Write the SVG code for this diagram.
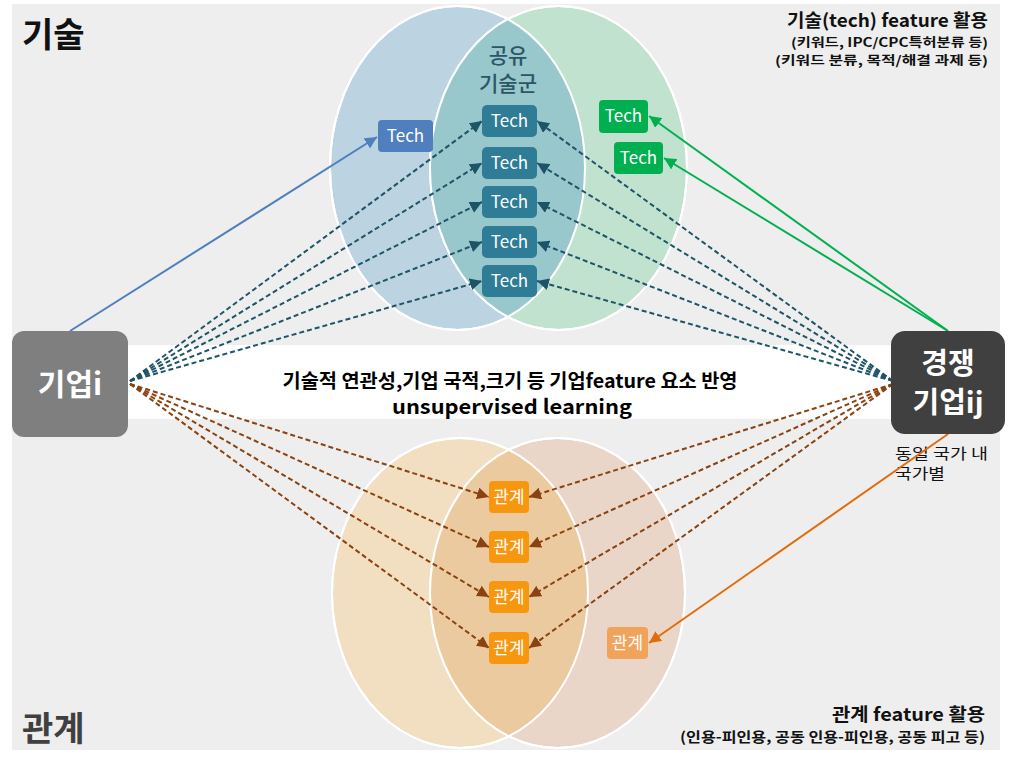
<svg xmlns="http://www.w3.org/2000/svg" width="1009" height="768" viewBox="0 0 1009 768">
<style>
text{font-family:"Noto Sans CJK KR","Noto Sans",sans-serif}
.b{font-weight:bold}
.tech{fill:#2e7c95}
.techT{fill:#fff;font-size:17px;text-anchor:middle}
.rel{fill:#f7960f}
.relT{fill:#fff;font-size:17px;text-anchor:middle}
.dt{stroke:#1e5468;stroke-width:2;stroke-dasharray:5,3;fill:none;marker-end:url(#ah-teal)}
.do{stroke:#8a4210;stroke-width:2;stroke-dasharray:5,3;fill:none;marker-end:url(#ah-brown)}
.ew{stroke:#ffffff;stroke-width:2}
</style>
<defs>
<marker id="ah-teal" viewBox="0 0 10 10" refX="10" refY="5" markerWidth="12" markerHeight="12" markerUnits="userSpaceOnUse" orient="auto"><path d="M0,0 L10,5 L0,10 z" fill="#1e5468"/></marker>
<marker id="ah-brown" viewBox="0 0 10 10" refX="10" refY="5" markerWidth="12" markerHeight="12" markerUnits="userSpaceOnUse" orient="auto"><path d="M0,0 L10,5 L0,10 z" fill="#8a4210"/></marker>
<marker id="ah-blue" viewBox="0 0 10 10" refX="10" refY="5" markerWidth="12" markerHeight="12" markerUnits="userSpaceOnUse" orient="auto"><path d="M0,0 L10,5 L0,10 z" fill="#4f7fbd"/></marker>
<marker id="ah-green" viewBox="0 0 10 10" refX="10" refY="5" markerWidth="12" markerHeight="12" markerUnits="userSpaceOnUse" orient="auto"><path d="M0,0 L10,5 L0,10 z" fill="#00b050"/></marker>
<marker id="ah-orange" viewBox="0 0 10 10" refX="10" refY="5" markerWidth="12" markerHeight="12" markerUnits="userSpaceOnUse" orient="auto"><path d="M0,0 L10,5 L0,10 z" fill="#e36c0a"/></marker>
<clipPath id="clipTopL"><ellipse cx="457.5" cy="168" rx="127.5" ry="162"/></clipPath>
<clipPath id="clipBotL"><ellipse cx="460" cy="593" rx="128" ry="155"/></clipPath>
</defs>
<rect x="0" y="0" width="1009" height="768" fill="#ffffff"/>
<rect x="12" y="4" width="988" height="746" fill="#eeeeee"/>
<rect x="12" y="345" width="988" height="74" fill="#ffffff"/>

<g id="venn-tech">
<ellipse cx="457.5" cy="168" rx="127.5" ry="162" fill="#bcd3e2" class="ew"/>
<ellipse cx="558.5" cy="168" rx="128.5" ry="162" fill="#c2e2d0" class="ew"/>
<ellipse cx="558.5" cy="168" rx="128.5" ry="162" fill="#98c7cc" clip-path="url(#clipTopL)"/>
<ellipse cx="457.5" cy="168" rx="127.5" ry="162" fill="none" class="ew"/>
<ellipse cx="558.5" cy="168" rx="128.5" ry="162" fill="none" class="ew"/>
<text x="508" y="63" font-size="21" fill="#2c5566" text-anchor="middle" font-weight="500">공유</text>
<text x="508" y="91" font-size="21" fill="#2c5566" text-anchor="middle" font-weight="500">기술군</text>
</g>

<g id="venn-rel">
<ellipse cx="460" cy="593" rx="128" ry="155" fill="#f2dfc1" class="ew"/>
<ellipse cx="557.5" cy="593" rx="127.5" ry="155" fill="#ead6c8" class="ew"/>
<ellipse cx="557.5" cy="593" rx="127.5" ry="155" fill="#ecca9f" clip-path="url(#clipBotL)"/>
<ellipse cx="460" cy="593" rx="128" ry="155" fill="none" class="ew"/>
<ellipse cx="557.5" cy="593" rx="127.5" ry="155" fill="none" class="ew"/>
</g>

<g id="labels">
<text x="22" y="47" font-size="34" class="b" fill="#111">기술</text>
<text x="22" y="741" font-size="34" class="b" fill="#404040">관계</text>
<text x="988" y="27" font-size="18" class="b" fill="#111" text-anchor="end" textLength="201" lengthAdjust="spacingAndGlyphs">기술(tech) feature 활용</text>
<text x="988" y="47" font-size="12.5" class="b" fill="#111" text-anchor="end" textLength="197" lengthAdjust="spacingAndGlyphs">(키워드, IPC/CPC특허분류 등)</text>
<text x="988" y="65" font-size="12.5" class="b" fill="#111" text-anchor="end" textLength="213" lengthAdjust="spacingAndGlyphs">(키워드 분류, 목적/해결 과제 등)</text>
<text x="985" y="721" font-size="18" class="b" fill="#111" text-anchor="end" textLength="153" lengthAdjust="spacingAndGlyphs">관계 feature 활용</text>
<text x="985" y="742" font-size="14" class="b" fill="#111" text-anchor="end" textLength="305" lengthAdjust="spacingAndGlyphs">(인용-피인용, 공동 인용-피인용, 공동 피고 등)</text>
<text x="510" y="388" font-size="19" class="b" fill="#000" text-anchor="middle" textLength="455" lengthAdjust="spacingAndGlyphs">기술적 연관성,기업 국적,크기 등 기업feature 요소 반영</text>
<text x="512" y="414" font-size="20" class="b" fill="#000" text-anchor="middle" textLength="240" lengthAdjust="spacingAndGlyphs">unsupervised learning</text>
<text x="895" y="459" font-size="15" fill="#111" textLength="93" lengthAdjust="spacingAndGlyphs">동일 국가 내</text>
<text x="895" y="479" font-size="15" fill="#111" textLength="50" lengthAdjust="spacingAndGlyphs">국가별</text>
</g>

<g id="connectors">
<line x1="70" y1="331" x2="377" y2="137" stroke="#4f7fbd" stroke-width="2" marker-end="url(#ah-blue)"/>
<line x1="948" y1="331" x2="649" y2="116" stroke="#00b050" stroke-width="2" marker-end="url(#ah-green)"/>
<line x1="948" y1="331" x2="664" y2="158" stroke="#00b050" stroke-width="2" marker-end="url(#ah-green)"/>
<line x1="948" y1="434" x2="649" y2="643" stroke="#e36c0a" stroke-width="2" marker-end="url(#ah-orange)"/>
<line x1="130" y1="381" x2="482" y2="121" class="dt"/>
<line x1="130" y1="381" x2="482" y2="163" class="dt"/>
<line x1="130" y1="381" x2="482" y2="202" class="dt"/>
<line x1="130" y1="381" x2="482" y2="242" class="dt"/>
<line x1="130" y1="381" x2="482" y2="281" class="dt"/>
<line x1="893" y1="381" x2="537" y2="121" class="dt"/>
<line x1="893" y1="381" x2="537" y2="163" class="dt"/>
<line x1="893" y1="381" x2="537" y2="202" class="dt"/>
<line x1="893" y1="381" x2="537" y2="242" class="dt"/>
<line x1="893" y1="381" x2="537" y2="281" class="dt"/>
<line x1="130" y1="384" x2="489" y2="497" class="do"/>
<line x1="130" y1="384" x2="489" y2="547" class="do"/>
<line x1="130" y1="384" x2="489" y2="597" class="do"/>
<line x1="130" y1="384" x2="489" y2="648" class="do"/>
<line x1="893" y1="384" x2="529" y2="497" class="do"/>
<line x1="893" y1="384" x2="529" y2="547" class="do"/>
<line x1="893" y1="384" x2="529" y2="597" class="do"/>
<line x1="893" y1="384" x2="529" y2="648" class="do"/>
</g>

<g id="node-firm-i">
<rect x="12" y="331" width="116" height="106" rx="12" fill="#7f7f7f"/>
<text x="70" y="395" font-size="30" class="b" fill="#fff" text-anchor="middle">기업i</text>
</g>
<g id="node-firm-ij">
<rect x="891" y="331" width="114" height="103" rx="14" fill="#404040"/>
<text x="948" y="374" font-size="29" class="b" fill="#fff" text-anchor="middle">경쟁</text>
<text x="948" y="413" font-size="29" class="b" fill="#fff" text-anchor="middle">기업ij</text>
</g>

<g id="tech-blue"><rect x="378" y="120" width="55" height="32" rx="4" fill="#4f7fbd"/><text x="405.5" y="142" class="techT">Tech</text></g>
<g id="tech-green-1"><rect x="599" y="100" width="49" height="33" rx="4" fill="#00b050"/><text x="623.5" y="122" class="techT">Tech</text></g>
<g id="tech-green-2"><rect x="614" y="142" width="49" height="32" rx="4" fill="#00b050"/><text x="638.5" y="164" class="techT">Tech</text></g>
<g id="tech-1"><rect x="482" y="105" width="55" height="32" rx="5" class="tech"/><text x="509.5" y="127" class="techT">Tech</text></g>
<g id="tech-2"><rect x="482" y="147" width="55" height="32" rx="5" class="tech"/><text x="509.5" y="169" class="techT">Tech</text></g>
<g id="tech-3"><rect x="482" y="186" width="55" height="32" rx="5" class="tech"/><text x="509.5" y="208" class="techT">Tech</text></g>
<g id="tech-4"><rect x="482" y="226" width="55" height="32" rx="5" class="tech"/><text x="509.5" y="248" class="techT">Tech</text></g>
<g id="tech-5"><rect x="482" y="265" width="55" height="32" rx="5" class="tech"/><text x="509.5" y="287" class="techT">Tech</text></g>

<g id="rel-1"><rect x="489" y="481" width="40" height="32" rx="4" class="rel"/><text x="509" y="503" class="relT">관계</text></g>
<g id="rel-2"><rect x="489" y="531" width="40" height="32" rx="4" class="rel"/><text x="509" y="553" class="relT">관계</text></g>
<g id="rel-3"><rect x="489" y="581" width="40" height="32" rx="4" class="rel"/><text x="509" y="603" class="relT">관계</text></g>
<g id="rel-4"><rect x="489" y="632" width="40" height="32" rx="4" class="rel"/><text x="509" y="654" class="relT">관계</text></g>
<g id="rel-5"><rect x="607" y="627" width="41" height="32" rx="4" fill="#f0a35a"/><text x="627.5" y="649" class="relT" fill="#fde9d6">관계</text></g>
</svg>
